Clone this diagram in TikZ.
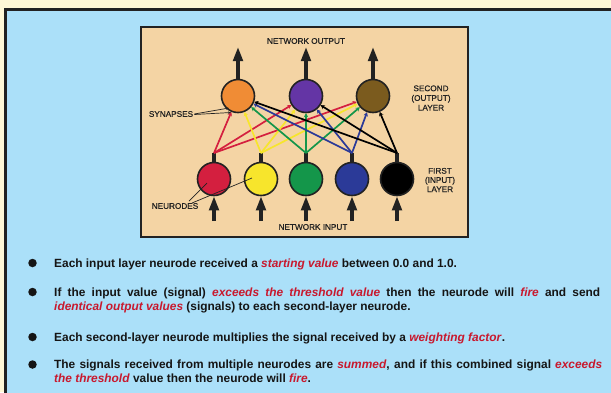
\documentclass[tikz,border=0pt]{standalone}
\usepackage{fontspec}
\setmainfont{Liberation Sans}
\newfontfamily\labelfont{Liberation Sans}[FakeBold=0.7]
\usetikzlibrary{arrows.meta}
\definecolor{cream}{HTML}{FFF8D6}
\definecolor{skyblue}{HTML}{ABE0F9}
\definecolor{frame}{HTML}{222222}
\definecolor{tanpanel}{HTML}{F4D4A4}
\definecolor{cred}{HTML}{D41F3F}
\definecolor{cyellow}{HTML}{F7E52C}
\definecolor{cgreen}{HTML}{14964A}
\definecolor{cblue}{HTML}{2B3A98}
\definecolor{corange}{HTML}{F08C35}
\definecolor{cpurple}{HTML}{6435A5}
\definecolor{cbrown}{HTML}{7B5B1E}
\definecolor{hired}{HTML}{C8192E}
\definecolor{ink}{HTML}{151515}
\newcommand{\redit}[1]{\textcolor{hired}{\textit{#1}}}
\tikzset{
  neuron/.style={circle, draw=frame, line width=1.6pt, minimum size=33pt, inner sep=0pt},
  label/.style={font=\labelfont\fontsize{8.2}{10}\selectfont, text=frame, inner sep=0pt, align=center},
  syn/.style={line width=1.7pt, -{Stealth[length=4pt,width=4.5pt]}},
  bigarrow/.style={line width=3.2pt, draw=frame, -{Triangle[length=14pt,width=9.5pt]}},
  stem/.style={line width=3.2pt, draw=frame},
  pointer/.style={line width=0.7pt, draw=frame, -{Stealth[length=3pt,width=2.5pt]}},
  bdot/.style={circle, fill=ink, minimum size=8.5pt, inner sep=0pt},
  bodytext/.style={font=\fontsize{11.9}{14}\selectfont\bfseries, text=ink, inner sep=0pt, anchor=base west}
}
\begin{document}
\begin{tikzpicture}[x=1pt,y=-1pt]
\useasboundingbox (0,0) rectangle (611,392);
\fill[cream] (0,0) rectangle (611,392);
\draw[line width=3pt, draw=frame, fill=skyblue] (5.5,9.5) rectangle (640,420);
\draw[line width=2pt, draw=frame, fill=tanpanel] (141,27) rectangle (468,237);

% output layer
\node[neuron, fill=corange] (o1) at (238,96) {};
\node[neuron, fill=cpurple] (o2) at (306,96) {};
\node[neuron, fill=cbrown] (o3) at (373,96) {};
% input layer
\node[neuron, fill=cred] (i1) at (214,179) {};
\node[neuron, fill=cyellow] (i2) at (261,179) {};
\node[neuron, fill=cgreen] (i3) at (306,179) {};
\node[neuron, fill=cblue] (i4) at (352,179) {};
\node[neuron, fill=black] (i5) at (397,179) {};
% junctions
\foreach \k/\x in {1/214,2/261,3/306,4/352,5/397} {
  \coordinate (j\k) at (\x,153);
  \coordinate (in\k) at (\x,221);
  \draw[stem] (i\k.north) -- (j\k);
  \draw[bigarrow] (in\k) -- (i\k.south);
}
% output arrows
\foreach \k/\x in {1/238,2/306,3/373} {
  \coordinate (out\k) at (\x,47);
  \draw[bigarrow] (o\k.north) -- (out\k);
}
% synapses
\foreach \k/\c in {1/cred,2/cyellow,3/cgreen,4/cblue,5/black} {
  \foreach \o in {1,2,3} {
    \draw[syn, \c] (j\k) -- (o\o);
  }
}

% labels
\node[label] (nout) at (306,41) {NETWORK OUTPUT};
\node[label] (nin) at (313,227) {NETWORK INPUT};
\node[label, align=center] (sec) at (431,98) {SECOND\\[-0.3pt](OUTPUT)\\[-0.3pt]LAYER};
\node[label, align=center] (fir) at (440,180) {FIRST\\[-0.8pt](INPUT)\\[-0.8pt]LAYER};
\node[label] (synl) at (171,114) {SYNAPSES};
\node[label] (neul) at (175,206) {NEURODES};

\coordinate (sp1) at (229,108);
\coordinate (sp2) at (231,112.5);
\draw[pointer] (synl.east) ++(1,0) -- (sp1);
\draw[pointer] (synl.east) ++(1,0.5) -- (sp2);
\coordinate (np1) at (207,183);
\coordinate (np2) at (252,178);
\coordinate (ns1) at (189,201);
\coordinate (ns2) at (192,203);
\draw[line width=0.7pt, draw=frame] (ns1) -- (np1);
\draw[line width=0.7pt, draw=frame] (ns2) -- (np2);

% bullets
\node[bdot] (b1) at (32.5,263) {};
\node[bdot] (b2) at (32.5,292) {};
\node[bdot] (b3) at (32.5,337) {};
\node[bdot] (b4) at (32.5,364.5) {};

\node[bodytext] (t1) at (54,267) {Each input layer neurode received a \redit{starting value} between 0.0 and 1.0.};
\node[bodytext] (t2) at (54,296) {\parbox[t]{546pt}{If the input value (signal) \redit{exceeds the threshold value} then the neurode will \redit{fire} and send\linebreak \redit{identical output values} (signals) to each second-layer neurode.}};
\node[bodytext] (t3) at (54,341) {Each second-layer neurode multiplies the signal received by a \redit{weighting factor}.};
\node[bodytext] (t4) at (54,368.5) {\parbox[t]{548pt}{The signals received from multiple neurodes are \redit{summed}, and if this combined signal \redit{exceeds}\linebreak \redit{the threshold} value then the neurode will \redit{fire}.}};
\end{tikzpicture}
\end{document}
